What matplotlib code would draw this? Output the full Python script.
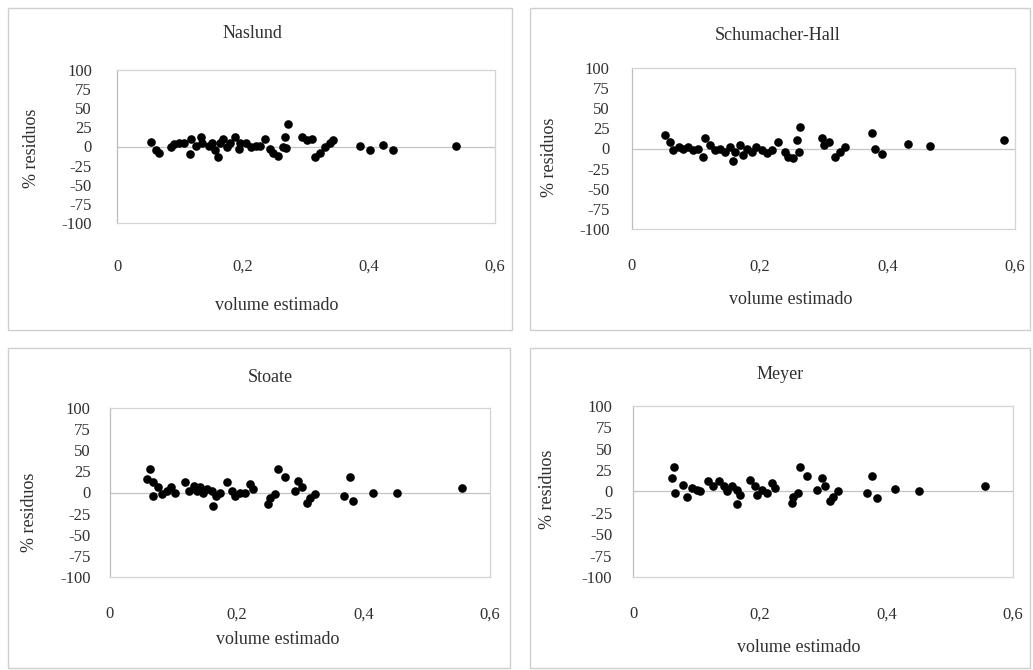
import matplotlib
matplotlib.use("Agg")
import matplotlib.pyplot as plt
from matplotlib.patches import Rectangle

W, H = 1033, 670

# ---------------- data ----------------
titles = ["Naslund", "Schumacher-Hall", "Stoate", "Meyer"]
x_label = "volume estimado"
y_label = "% residuos"
x_ticks = [0, 0.2, 0.4, 0.6]
x_tick_labels = ["0", "0,2", "0,4", "0,6"]
y_ticks = [-100, -75, -50, -25, 0, 25, 50, 75, 100]
y_tick_labels = ["-100", "-75", "-50", "-25", "0", "25", "50", "75", "100"]

naslund_x = [0.054, 0.062, 0.066, 0.085, 0.090, 0.098, 0.106, 0.117, 0.116, 0.125,
             0.133, 0.135, 0.146, 0.151, 0.156, 0.161, 0.164, 0.169, 0.175, 0.180,
             0.188, 0.193, 0.196, 0.204, 0.212, 0.220, 0.227, 0.235, 0.243, 0.248,
             0.256, 0.264, 0.267, 0.272, 0.268, 0.294, 0.302, 0.310, 0.314, 0.322,
             0.330, 0.338, 0.343, 0.385, 0.401, 0.422, 0.438, 0.538]
naslund_y = [6.5, -5, -9, -1, 3, 4, 5, 10, -10, 1,
             12, 5, 1, 5, -5, -14, 4, 10, -1, 5,
             12, -3, 5, 4, -1, 1, 1, 10, -3, -9,
             -12, -1, 12, 30, -2, 12, 8, 10, -14, -8,
             -1, 5, 8, 1, -5, 2, -4, 0.5]

schumacher_x = [0.052, 0.060, 0.065, 0.073, 0.080, 0.088, 0.096, 0.104, 0.112, 0.114,
                0.122, 0.130, 0.138, 0.146, 0.154, 0.159, 0.161, 0.169, 0.174, 0.180,
                0.188, 0.195, 0.203, 0.211, 0.219, 0.229, 0.240, 0.245, 0.253, 0.258,
                0.261, 0.263, 0.297, 0.300, 0.308, 0.318, 0.326, 0.334, 0.376, 0.381,
                0.391, 0.433, 0.467, 0.582]
schumacher_y = [16.8, 8.5, -2, 2, 0, 2, -2, 0, -10, 12.7,
                4, -2, 0, -4, 2, -16, -4, 4, -8, 0,
                -4, 2, -2, -6, -2, 8.5, -4, -10, -12, 10.5,
                -4, 27, 12.7, 4, 8.5, -10, -4, 2, 19, 0,
                -7, 5.6, 3.5, 10.6]

stoate_x = [0.063, 0.058, 0.068, 0.068, 0.076, 0.082, 0.090, 0.097, 0.103, 0.118,
            0.124, 0.132, 0.137, 0.142, 0.147, 0.153, 0.161, 0.163, 0.168, 0.174,
            0.184, 0.192, 0.197, 0.205, 0.213, 0.221, 0.226, 0.250, 0.253, 0.261,
            0.266, 0.276, 0.292, 0.297, 0.303, 0.311, 0.316, 0.324, 0.379, 0.369,
            0.384, 0.416, 0.453, 0.556]
stoate_y = [27.8, 16, 12, -4, 6, -2, 2, 6, 0, 12,
            2, 8, 2, 6, 0, 4, 2, -16, -4, 0,
            12, 2, -4, 0, 0, 10, 4, -14, -6, -2,
            27.8, 18, 2, 14, 6, -12, -6, -2, 18, -4,
            -10, 0, 0, 5.3]

meyer_x = [0.064, 0.061, 0.066, 0.079, 0.085, 0.093, 0.101, 0.106, 0.119, 0.127,
           0.135, 0.143, 0.148, 0.156, 0.164, 0.164, 0.169, 0.185, 0.193, 0.195,
           0.203, 0.211, 0.219, 0.224, 0.251, 0.253, 0.261, 0.264, 0.274, 0.290,
           0.298, 0.303, 0.311, 0.316, 0.324, 0.377, 0.369, 0.385, 0.414, 0.451,
           0.556]
meyer_y = [29, 16, -2, 8, -6, 4, 2, 0, 12, 6,
           12, 6, 0, 6, 2, -15, -4, 14, 6, -4,
           2, -2, 10, 4, -13, -6, -2, 29, 18, 2,
           16, 6, -11, -6, 0, 18, -2, -8, 3, 0,
           7]

series_x = [naslund_x, schumacher_x, stoate_x, meyer_x]
series_y = [naslund_y, schumacher_y, stoate_y, meyer_y]

# ---------------- layout (pixels) ----------------
boxes = [(8, 8, 512, 330), (530, 8, 1030, 330), (8, 348, 510, 668), (530, 348, 1030, 668)]
areas = [(117, 70, 495, 223), (632, 68, 1015, 229), (110, 408, 490, 577), (633, 406, 1013, 577)]
title_pos = [(252, 33), (778, 35), (270, 377), (780, 375)]
xlabel_pos = [(277, 305), (791, 300), (278, 640), (799, 647)]
ylabel_pos = [(32, 148), (550, 157), (30, 512), (548, 489)]
xtick_pad = [26, 21, 21, 21]
ytick_pad = [18, 16, 14, 15]

plt.rcParams['font.family'] = ['Liberation Serif', 'DejaVu Serif']
text_color = '#303030'
fig = plt.figure(figsize=(W / 100, H / 100), dpi=100)
fig.patch.set_facecolor('white')

for i in range(4):
    bl, bt, br, bb = boxes[i]
    fig.patches.append(Rectangle((bl / W, 1 - bb / H), (br - bl) / W, (bb - bt) / H,
                                 transform=fig.transFigure, fill=False,
                                 edgecolor='#cfcfcf', linewidth=1.0))
    l, t, r, b = areas[i]
    ax = fig.add_axes([l / W, 1 - b / H, (r - l) / W, (b - t) / H])
    ax.plot(series_x[i], series_y[i], 'o', color='black', markersize=6.2,
            markeredgewidth=0, zorder=3)
    ax.axhline(0, color='#c4c4c4', linewidth=0.9, zorder=1)
    ax.set_xlim(0, 0.6)
    ax.set_ylim(-100, 100)
    ax.set_xticks(x_ticks)
    ax.set_xticklabels(x_tick_labels)
    ax.set_yticks(y_ticks)
    ax.set_yticklabels(y_tick_labels)
    for s in ax.spines.values():
        s.set_color('#d4d4d4')
        s.set_linewidth(0.9)
    ax.spines['left'].set_color('#bdbdbd')
    ax.tick_params(axis='x', length=0, pad=xtick_pad[i], labelsize=12, labelcolor=text_color)
    ax.tick_params(axis='y', length=0, pad=ytick_pad[i], labelsize=12, labelcolor=text_color)

    ax.set_title(titles[i], fontsize=13, color=text_color, pad=0,
                 x=(title_pos[i][0] - l) / (r - l),
                 y=(b - title_pos[i][1]) / (b - t), va='center')

    ax.set_xlabel(x_label, fontsize=13, color=text_color)
    ax.xaxis.label.set_verticalalignment('center')
    ax.xaxis.set_label_coords((xlabel_pos[i][0] - l) / (r - l), (b - xlabel_pos[i][1]) / (b - t))

    ax.set_ylabel(y_label, fontsize=13, color=text_color)
    ax.yaxis.label.set_verticalalignment('center')
    ax.yaxis.set_label_coords((ylabel_pos[i][0] - l) / (r - l), (b - ylabel_pos[i][1]) / (b - t))

fig.savefig("out.png", dpi=100, facecolor='white')
